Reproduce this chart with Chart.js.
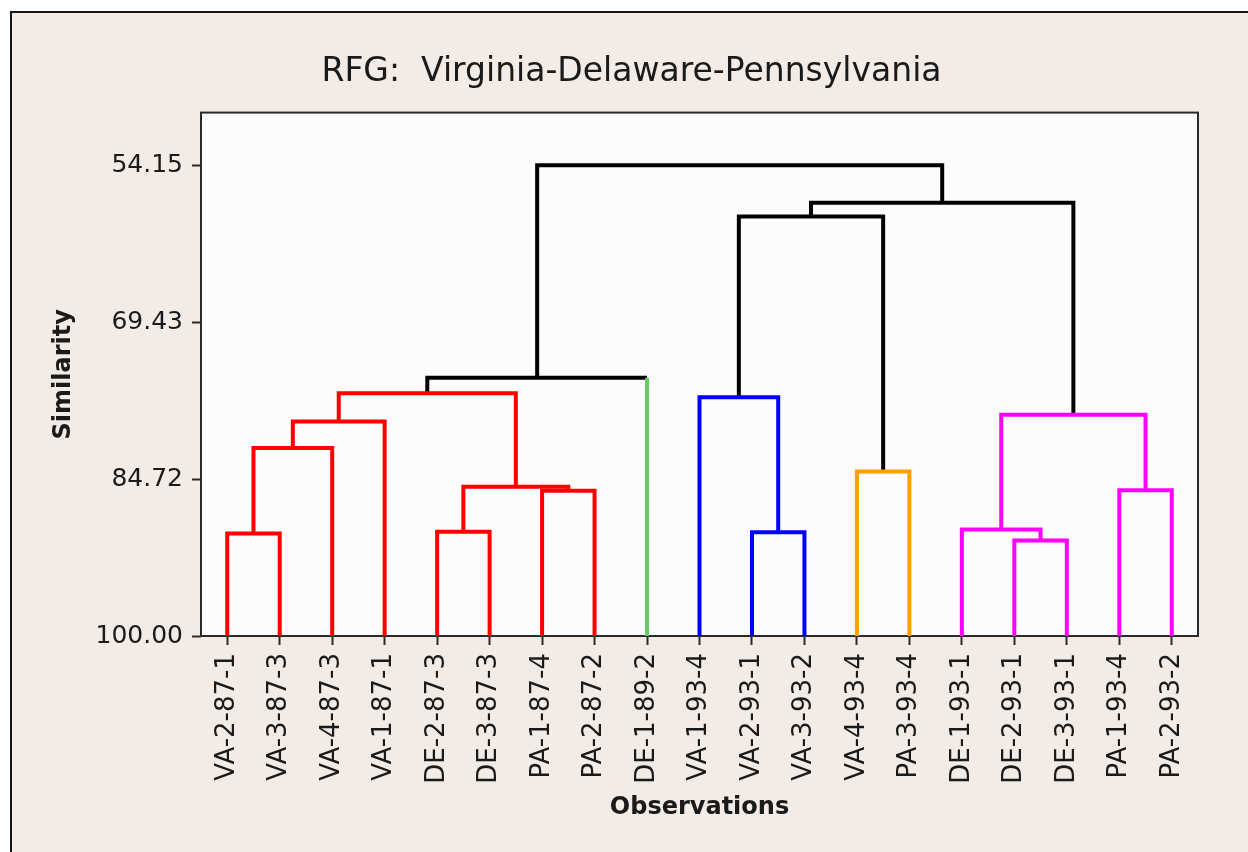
<!DOCTYPE html>
<html>
<head>
<meta charset="utf-8">
<title>RFG: Virginia-Delaware-Pennsylvania</title>
<script src="https://cdn.jsdelivr.net/npm/chart.js@4.4.1/dist/chart.umd.min.js"></script>
<style>
    html, body { margin: 0; padding: 0; background: #ffffff; overflow: hidden; }
    #dendro { display: block; }
</style>
</head>
<body>
<canvas id="dendro" width="1248" height="852"></canvas>
<script>
/**
 * Dendrogram (single linkage, similarity) drawn with Chart.js line datasets
 */

// Leaf order along the x axis
const observations = [
    'VA-2-87-1', 'VA-3-87-3', 'VA-4-87-3', 'VA-1-87-1', 'DE-2-87-3', 'DE-3-87-3',
    'PA-1-87-4', 'PA-2-87-2', 'DE-1-89-2', 'VA-1-93-4', 'VA-2-93-1', 'VA-3-93-2',
    'VA-4-93-4', 'PA-3-93-4', 'DE-1-93-1', 'DE-2-93-1', 'DE-3-93-1', 'PA-1-93-4', 'PA-2-93-2'
];

// Merge steps: ids below 19 are leaves, id 19 + k is the cluster made at step k
const joinLeft  = [0, 19, 20, 4, 6, 22, 21, 25, 10, 9, 12, 28, 15, 14, 17, 32, 30, 26];
const joinRight = [1, 2, 3, 5, 7, 23, 24, 8, 11, 27, 13, 29, 16, 31, 18, 33, 34, 35];
const joinSimilarity = [
    90.03, 81.70, 79.11, 89.84, 85.85, 85.46, 76.35, 74.86, 89.90,
    76.76, 83.97, 59.15, 90.71, 89.64, 85.80, 78.46, 57.82, 54.15
];

const similarityTicks = [54.15, 69.43, 84.72, 100.00];
const leafSimilarity = 100;

// Styling
const RED = '#ff0000', BLUE = '#0000ff', ORANGE = '#ffa000', MAGENTA = '#ff00ff', BLACK = '#000000';
const joinColors = [RED, RED, RED, RED, RED, RED, RED, BLACK, BLUE, BLUE, ORANGE, BLACK,
    MAGENTA, MAGENTA, MAGENTA, MAGENTA, BLACK, BLACK];
const singletonColors = { 8: '#66cc66' };
const TEXT = '#1a1a1a';
const FONT = 'DejaVu Sans';

function buildLinks() {
    const nodeX = observations.map((_, i) => i);
    const nodeY = observations.map(() => leafSimilarity);
    const links = [];

    joinLeft.forEach((left, k) => {
        const right = joinRight[k];
        const h = joinSimilarity[k];
        const color = joinColors[k];
        const legColors = [
            singletonColors[left] || color,
            color,
            singletonColors[right] || color
        ];
        links.push({
            data: [
                { x: nodeX[left], y: nodeY[left] },
                { x: nodeX[left], y: h },
                { x: nodeX[right], y: h },
                { x: nodeX[right], y: nodeY[right] }
            ],
            borderColor: color,
            borderWidth: 4,
            borderJoinStyle: 'miter',
            pointRadius: 0,
            pointHitRadius: 0,
            fill: false,
            tension: 0,
            segment: {
                borderColor: ctx => legColors[ctx.p0DataIndex]
            }
        });
        nodeX.push((nodeX[left] + nodeX[right]) / 2);
        nodeY.push(h);
    });
    return links;
}

// Page frame, plot background and plot border
const backdrop = {
    id: 'backdrop',
    beforeDraw(chart) {
        const { ctx, width, height, chartArea: a } = chart;
        ctx.save();
        ctx.fillStyle = '#ffffff';
        ctx.fillRect(0, 0, width, height);
        ctx.fillStyle = '#f3ebe5';
        ctx.fillRect(11, 12, width - 11, height - 12);
        ctx.strokeStyle = '#141414';
        ctx.lineWidth = 2;
        ctx.beginPath();
        ctx.moveTo(11, height);
        ctx.lineTo(11, 12);
        ctx.lineTo(width, 12);
        ctx.stroke();
        ctx.fillStyle = '#fcfcfc';
        ctx.fillRect(a.left, a.top, a.right - a.left, a.bottom - a.top);
        ctx.restore();
    },
    beforeDatasetsDraw(chart) {
        const { ctx, chartArea: a } = chart;
        ctx.save();
        ctx.strokeStyle = '#2a2a2a';
        ctx.lineWidth = 2;
        ctx.strokeRect(a.left, a.top, a.right - a.left, a.bottom - a.top);
        ctx.restore();
    }
};

const tickGrid = {
    display: true,
    drawOnChartArea: false,
    drawTicks: true,
    tickLength: 9,
    tickWidth: 2,
    tickColor: '#2a2a2a'
};

new Chart(document.getElementById('dendro'), {
    type: 'line',
    data: { datasets: buildLinks() },
    plugins: [backdrop],
    options: {
        responsive: false,
        animation: false,
        devicePixelRatio: 1,
        events: [],
        layout: { padding: { left: 40, right: 25, top: 0, bottom: 0 } },
        plugins: {
            legend: { display: false },
            tooltip: { enabled: false },
            title: {
                display: true,
                text: 'RFG:  Virginia-Delaware-Pennsylvania',
                color: TEXT,
                font: { family: FONT, size: 33, weight: 'normal' },
                padding: { top: 53, bottom: 20 }
            }
        },
        scales: {
            x: {
                type: 'linear',
                min: -0.5,
                max: observations.length - 0.5,
                grid: tickGrid,
                border: { display: false },
                afterBuildTicks: s => { s.ticks = observations.map((_, i) => ({ value: i })); },
                afterFit: s => { s.height = 216; },
                ticks: {
                    autoSkip: false,
                    minRotation: 90,
                    maxRotation: 90,
                    padding: 8,
                    color: TEXT,
                    font: { family: FONT, size: 26 },
                    callback: v => observations[v]
                },
                title: {
                    display: true,
                    text: 'Observations',
                    color: TEXT,
                    font: { family: FONT, size: 24, weight: 'bold' },
                    padding: { top: 0, bottom: 30 }
                }
            },
            y: {
                type: 'linear',
                reverse: true,
                min: 49.03,
                max: 100,
                grid: tickGrid,
                border: { display: false },
                afterBuildTicks: s => { s.ticks = similarityTicks.map(v => ({ value: v })); },
                afterFit: s => { s.width = 161; },
                ticks: {
                    padding: 9,
                    color: TEXT,
                    font: { family: FONT, size: 25 },
                    callback: v => Number(v).toFixed(2)
                },
                title: {
                    display: true,
                    text: 'Similarity',
                    color: TEXT,
                    font: { family: FONT, size: 24, weight: 'bold' },
                    padding: { top: 9, bottom: 0 }
                }
            },
            // empty right-hand axis, only reserves room so the title centres like the reference
            yRight: {
                type: 'linear',
                position: 'right',
                display: true,
                grid: { display: false },
                border: { display: false },
                ticks: { display: false },
                afterFit: s => { s.width = 25; }
            }
        }
    }
});

console.log('Dendrogram drawn');
</script>
</body>
</html>
